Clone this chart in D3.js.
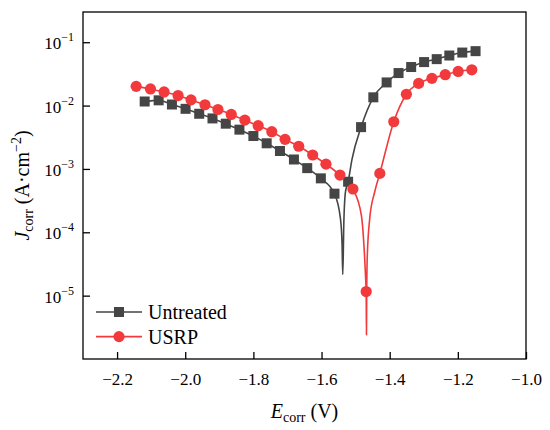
<!DOCTYPE html>
<html>
<head>
<meta charset="utf-8">
<script src="https://cdn.jsdelivr.net/npm/d3@7"></script>
<style>
  html, body { margin: 0; padding: 0; background: #fff; }
  svg, svg text { font-family: "Liberation Serif", "Times New Roman", Times, "DejaVu Serif", "Noto Serif", serif; }
</style>
</head>
<body>
<div id="chart"></div>
<script>
// Polarization curves
const seriesNames = ['Untreated', 'USRP'];

// marker positions (E in V, J in A/cm^2)
const untreatedE = [-2.119, -2.078, -2.039, -1.999, -1.959, -1.920, -1.881, -1.841, -1.800, -1.761,
  -1.722, -1.681, -1.642, -1.602, -1.562, -1.522, -1.484, -1.448, -1.409, -1.374,
  -1.337, -1.299, -1.262, -1.225, -1.187, -1.148];
const untreatedJ = [0.0116, 0.0121, 0.0104, 0.00889, 0.00743, 0.00627, 0.00518, 0.00417, 0.00331, 0.00254,
  0.00192, 0.00141, 0.00103, 7.1e-4, 4.07e-4, 6.28e-4, 0.00457, 0.0135, 0.0232, 0.0326,
  0.0406, 0.0486, 0.0541, 0.0617, 0.0687, 0.0723];

const usrpE = [-2.144, -2.102, -2.062, -2.021, -1.983, -1.942, -1.904, -1.865, -1.825, -1.786,
  -1.746, -1.707, -1.667, -1.626, -1.587, -1.546, -1.508, -1.469, -1.429, -1.388,
  -1.351, -1.315, -1.276, -1.237, -1.199, -1.159];
const usrpJ = [0.0201, 0.0183, 0.0164, 0.0144, 0.0123, 0.0103, 0.00867, 0.00724, 0.00589, 0.00481,
  0.00387, 0.00293, 0.00228, 0.00166, 0.00119, 8.0e-4, 4.82e-4, 1.16e-5, 8.5e-4, 0.00556,
  0.0151, 0.0224, 0.0269, 0.0307, 0.0346, 0.0367];

// extra curve points around the corrosion potential (line only, no marker)
const untreatedCuspE = [-1.5444, -1.5398, -1.5377, -1.5357, -1.5348, -1.5298, -1.5105];
const untreatedCuspJ = [1.63e-4, 6.6e-5, 2.16e-5, 6.6e-5, 1.28e-4, 4.33e-4, 1.43e-3];
const usrpCuspE = [-1.4830, -1.4734, -1.4700, -1.4682, -1.4674, -1.4660, -1.4587, -1.4441];
const usrpCuspJ = [1.84e-4, 3.85e-5, 1.6e-5, 2.41e-6, 1.16e-5, 3.85e-5, 1.63e-4, 4.33e-4];

const xTicks = [-2.2, -2.0, -1.8, -1.6, -1.4, -1.2, -1.0];
const yTicks = [1e-1, 1e-2, 1e-3, 1e-4, 1e-5];
const yTickExp = ['\u22121', '\u22122', '\u22123', '\u22124', '\u22125'];

const colors = { Untreated: '#454545', USRP: '#f23a3c' };
const serif = '"Liberation Serif", "Times New Roman", Times, "DejaVu Serif", "Noto Serif", serif';

// layout
const W = 550, H = 430;
const margin = { top: 12, right: 24, bottom: 71, left: 83 };
const width = W - margin.left - margin.right;
const height = H - margin.top - margin.bottom;

const svg = d3.select('#chart').append('svg')
  .attr('width', W)
  .attr('height', H)
  .attr('font-family', serif);

const g = svg.append('g')
  .attr('transform', `translate(${margin.left},${margin.top})`);

const x = d3.scaleLinear().domain([-2.3, -1.0]).range([0, width]);
const y = d3.scaleLog().domain([1e-6, 0.3]).range([height, 0]);

// merge markers with cusp points for the curve
function curvePoints(E, J, cE, cJ) {
  const pts = E.map((e, i) => [e, J[i]]).concat(cE.map((e, i) => [e, cJ[i]]));
  return pts.sort((a, b) => a[0] - b[0]);
}

const series = [
  { name: 'Untreated', shape: 'square', E: untreatedE, J: untreatedJ,
    line: curvePoints(untreatedE, untreatedJ, untreatedCuspE, untreatedCuspJ) },
  { name: 'USRP', shape: 'circle', E: usrpE, J: usrpJ,
    line: curvePoints(usrpE, usrpJ, usrpCuspE, usrpCuspJ) }
];

const line = d3.line()
  .x(d => x(d[0]))
  .y(d => y(d[1]))
  .curve(d3.curveMonotoneX);

// curves
series.forEach(s => {
  g.append('path')
    .datum(s.line)
    .attr('fill', 'none')
    .attr('stroke', colors[s.name])
    .attr('stroke-width', 1.6)
    .attr('d', line);
});

// markers
function drawMarker(sel, shape, color, cx, cy) {
  if (shape === 'square') {
    sel.append('rect')
      .attr('x', cx - 5).attr('y', cy - 5)
      .attr('width', 10).attr('height', 10)
      .attr('fill', color);
  } else {
    sel.append('circle')
      .attr('cx', cx).attr('cy', cy).attr('r', 5.6)
      .attr('fill', color);
  }
}

series.forEach(s => {
  const mg = g.append('g');
  s.E.forEach((e, i) => drawMarker(mg, s.shape, colors[s.name], x(e), y(s.J[i])));
});

// frame
g.append('rect')
  .attr('width', width).attr('height', height)
  .attr('fill', 'none')
  .attr('stroke', '#000')
  .attr('stroke-width', 1.3);

// x axis
const xAxis = g.append('g')
  .attr('transform', `translate(0,${height})`)
  .call(d3.axisBottom(x).tickValues(xTicks).tickSize(-7).tickPadding(14)
    .tickFormat(d => d3.format('.1f')(d).replace('-', '\u2212')));
xAxis.attr('font-family', serif);
xAxis.select('.domain').remove();
xAxis.selectAll('line').attr('stroke', '#000').attr('stroke-width', 1.3);
xAxis.selectAll('text')
  .attr('fill', '#000')
  .attr('font-size', '17px')
  .attr('font-family', serif);

// y axis
const yAxis = g.append('g')
  .call(d3.axisLeft(y).tickValues(yTicks).tickSize(-7).tickFormat(''));
yAxis.select('.domain').remove();
yAxis.selectAll('line').attr('stroke', '#000').attr('stroke-width', 1.3);

yTicks.forEach((t, i) => {
  const txt = g.append('text')
    .attr('x', -9)
    .attr('y', y(t) + 7)
    .attr('text-anchor', 'end')
    .attr('font-size', '17px')
    .attr('fill', '#000');
  txt.append('tspan').text('10');
  txt.append('tspan')
    .attr('font-size', '12px')
    .attr('dy', -8)
    .text(yTickExp[i]);
});

// axis titles
const xTitle = svg.append('text')
  .attr('x', margin.left + width / 2)
  .attr('y', 418)
  .attr('text-anchor', 'middle')
  .attr('font-size', '20px')
  .attr('fill', '#000');
xTitle.append('tspan').attr('font-style', 'italic').text('E');
xTitle.append('tspan').attr('font-size', '14px').attr('dy', 4).text('corr');
xTitle.append('tspan').attr('dy', -4).text(' (V)');

const yTitle = svg.append('text')
  .attr('transform', `translate(29,${margin.top + height / 2}) rotate(-90)`)
  .attr('text-anchor', 'middle')
  .attr('font-size', '20px')
  .attr('fill', '#000');
yTitle.append('tspan').attr('font-style', 'italic').text('J');
yTitle.append('tspan').attr('font-size', '14px').attr('dy', 4).text('corr');
yTitle.append('tspan').attr('dy', -4).text(' (A\u00b7cm');
yTitle.append('tspan').attr('font-size', '14px').attr('dy', -8).text('\u22122');
yTitle.append('tspan').attr('dy', 8).text(')');

// legend
const legend = g.append('g')
  .attr('transform', 'translate(13,300)');
series.forEach((s, i) => {
  const ly = i * 24.6;
  legend.append('line')
    .attr('x1', 0).attr('x2', 46)
    .attr('y1', ly).attr('y2', ly)
    .attr('stroke', colors[s.name])
    .attr('stroke-width', 1.6);
  drawMarker(legend, s.shape, colors[s.name], 23, ly);
  legend.append('text')
    .attr('x', 52)
    .attr('y', ly + 7)
    .attr('font-size', '20px')
    .attr('fill', '#000')
    .text(s.name);
});
</script>
</body>
</html>
